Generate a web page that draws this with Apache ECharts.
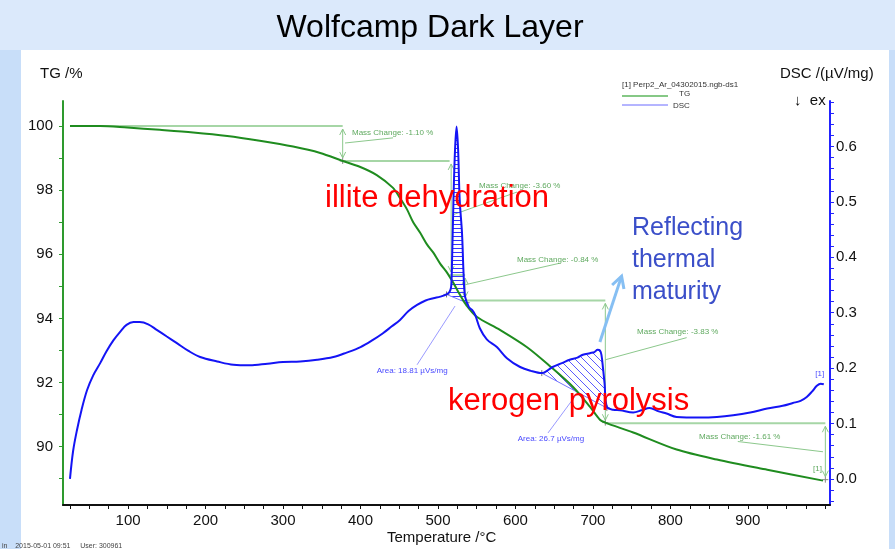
<!DOCTYPE html>
<html><head><meta charset="utf-8">
<script src="https://cdn.jsdelivr.net/npm/echarts@6/dist/echarts.min.js"></script>
<style>html,body{margin:0;padding:0;background:#dbe9fb}#c{width:895px;height:549px}</style>
</head><body><div id="c"></div>
<script>
const FONT = '"Liberation Sans", Arial, sans-serif';

// ---- TG curve (°C, %) ----
const tempTG = [25,64,99,141,184,228,270,313,348,377,399,421,442,451,460,468,477,486,494,503,511,520,528,537,550,580,615,645,674,696,709,716,752,808,860,925,997];
const tgValues = [100.0,100.0,99.95,99.88,99.8,99.69,99.54,99.36,99.16,98.91,98.73,98.47,98.07,97.75,97.4,97.0,96.67,96.3,96.05,95.7,95.45,95.1,94.75,94.4,94.05,93.64,93.1,92.5,91.87,91.25,90.84,90.75,90.44,89.91,89.6,89.28,88.94];

// ---- DSC curve (°C, µV/mg) ----
const tempDSC = [25,29,34,40,47,55,64,72,81,90,98,107,115,126,137,150,163,178,193,215,236,257,280,300,322,344,365,382,400,415,429,440,451,462,473,484,494,503,511,515,517,518,520,522,524,526,528,531,533,535,540,544,548,554,563,576,589,606,620,634,648,660,670,680,687,696,702,706,709,711,713,715,718,726,735,752,763,773,785,795,808,838,860,881,903,925,945,958,968,976,983,989,994,998];
const dscValues = [0.0,0.05,0.088,0.125,0.16,0.187,0.209,0.23,0.25,0.266,0.278,0.283,0.283,0.279,0.269,0.257,0.245,0.231,0.22,0.212,0.206,0.205,0.208,0.211,0.212,0.215,0.22,0.228,0.238,0.25,0.263,0.275,0.287,0.303,0.314,0.322,0.326,0.329,0.333,0.338,0.347,0.383,0.504,0.594,0.636,0.594,0.504,0.444,0.372,0.329,0.31,0.305,0.296,0.272,0.252,0.238,0.218,0.202,0.195,0.191,0.202,0.209,0.215,0.219,0.224,0.227,0.229,0.233,0.232,0.224,0.2,0.173,0.13,0.125,0.124,0.12,0.124,0.128,0.122,0.118,0.112,0.111,0.112,0.115,0.12,0.127,0.132,0.137,0.141,0.148,0.158,0.168,0.172,0.171];

// ---- axis labels ----
const xLabelValues = [100,200,300,400,500,600,700,800,900];
const tgLabelValues = [90,92,94,96,98,100];
const dscLabelValues = [0.0,0.1,0.2,0.3,0.4,0.5,0.6];

// ---- mass change annotations (TG axis units) ----
const massRefLines = [[25,377,100.0],[377,515,98.91],[515,535,95.35],[535,716,94.56],[716,1000,90.73]];
const massArrows = [[377,100.0,98.91],[517,98.91,95.35],[535,95.35,94.56],[716,94.56,90.73],[1000,90.73,88.97]];
const massLabels = ['Mass Change: -1.10 %','Mass Change: -3.60 %','Mass Change: -0.84 %','Mass Change: -3.83 %','Mass Change: -1.61 %'];
const massLabelPos = [[389,99.78],[553,98.13],[602,95.83],[757,93.58],[837,90.31]];
const massLeaders = [[380,99.47,442,99.63],[519,97.23,602,97.94],[535,95.05,657,95.72],[716,92.71,821,93.40],[997,89.84,887,90.16]];
const tgCrosses = [[377,98.91],[716,90.75],[1000,88.97]];

// ---- DSC peak areas (DSC axis units) ----
const areaRanges = [[511,537,0.333,0.318],[634,718,0.191,0.128]];
const areaLabels = ['Area: 18.81 \u00b5Vs/mg','Area: 26.7 \u00b5Vs/mg'];
const areaLabelPos = [[421,0.195],[603,0.072]];
const areaLeaders = [[522,0.312,473,0.206],[680,0.155,642,0.083]];
const dscCrosses = [[511,0.333],[537,0.318],[634,0.191],[718,0.128]];
const reflectArrow = [[709,0.247],[737,0.366]];

const xTicks = []; for (let t = 25; t <= 1000; t += 25) xTicks.push(t);
const tgTicks = []; for (let v = 89; v <= 100; v++) tgTicks.push(v);
const dscTicks = []; for (let i = -2; i <= 34; i++) dscTicks.push(+(i * 0.02).toFixed(2));

function makeHatch(kind) {
  const cv = document.createElement('canvas');
  const ctx = cv.getContext('2d');
  if (kind === 'h') {
    cv.width = 4; cv.height = 4;
    ctx.strokeStyle = '#3535ff'; ctx.lineWidth = 1;
    ctx.beginPath(); ctx.moveTo(0, 0.5); ctx.lineTo(4, 0.5); ctx.stroke();
  } else {
    cv.width = 8; cv.height = 8;
    ctx.strokeStyle = '#5a5aff'; ctx.lineWidth = 1;
    ctx.beginPath();
    for (const o of [-8, 0, 8]) { ctx.moveTo(o, 0); ctx.lineTo(o + 8, 8); }
    ctx.stroke();
  }
  return { image: cv, repeat: 'repeat' };
}
const hatchH = makeHatch('h');
const hatchD = makeHatch('d');

const tgData = tempTG.map((t, i) => [t, tgValues[i]]);
const dscData = tempDSC.map((t, i) => [t, dscValues[i]]);

const lineG = '#a6d6a6', textG = '#5fa95f';
function cross(p, col) {
  return [
    {type:'line', shape:{x1:p[0]-3,y1:p[1],x2:p[0]+3,y2:p[1]}, style:{stroke:col,lineWidth:1}},
    {type:'line', shape:{x1:p[0],y1:p[1]-3,x2:p[0],y2:p[1]+3}, style:{stroke:col,lineWidth:1}}
  ];
}
function smallText(p, txt, col) {
  return {type:'text', x:p[0], y:p[1], style:{text:txt, fill:col, font:'8px ' + FONT, align:'left', verticalAlign:'middle', textAlign:'left', textVerticalAlign:'middle'}};
}

function renderMass(params, api) {
  const c = (t, v) => api.coord([t, v]);
  const ch = [];
  massRefLines.forEach(r => {
    const a = c(r[0], r[2]), b = c(r[1], r[2]);
    ch.push({type:'line', shape:{x1:a[0],y1:a[1],x2:b[0],y2:b[1]}, style:{stroke:lineG,lineWidth:2}});
  });
  massArrows.forEach(r => {
    const a = c(r[0], r[1]), b = c(r[0], r[2]);
    const top = a[1] + 3, bot = b[1] - 3;
    ch.push({type:'line', shape:{x1:a[0],y1:top,x2:b[0],y2:bot}, style:{stroke:'#8cc88c',lineWidth:1}});
    ch.push({type:'polyline', shape:{points:[[a[0]-3,top+6],[a[0],top],[a[0]+3,top+6]]}, style:{stroke:'#8cc88c',lineWidth:1,fill:null}});
    ch.push({type:'polyline', shape:{points:[[b[0]-3,bot-6],[b[0],bot],[b[0]+3,bot-6]]}, style:{stroke:'#8cc88c',lineWidth:1,fill:null}});
  });
  massLeaders.forEach(r => {
    const a = c(r[0], r[1]), b = c(r[2], r[3]);
    ch.push({type:'line', shape:{x1:a[0],y1:a[1],x2:b[0],y2:b[1]}, style:{stroke:'#8cc88c',lineWidth:1}});
  });
  massLabels.forEach((s, i) => ch.push(smallText(c(massLabelPos[i][0], massLabelPos[i][1]), s, textG)));
  tgCrosses.forEach(p => ch.push(...cross(c(p[0], p[1]), '#888')));
  ch.push(smallText(c(984, 89.32), '[1]', textG));
  return {type:'group', children: ch};
}

function renderDscAnno(params, api) {
  const c = (t, v) => api.coord([t, v]);
  const ch = [];
  areaRanges.forEach((r, k) => {
    const pts = [];
    tempDSC.forEach((t, i) => { if (t >= r[0] && t <= r[1]) pts.push(c(t, dscValues[i])); });
    pts.push(c(r[1], r[3]));
    pts.push(c(r[0], r[2]));
    ch.push({type:'polygon', shape:{points:pts}, style:{fill: k === 0 ? hatchH : hatchD, stroke:null}});
    const b0 = c(r[0], r[2]), b1 = c(r[1], r[3]);
    ch.push({type:'line', shape:{x1:b0[0],y1:b0[1],x2:b1[0],y2:b1[1]}, style:{stroke:'#7777ff',lineWidth:1}});
  });
  areaLeaders.forEach(r => {
    const a = c(r[0], r[1]), b = c(r[2], r[3]);
    ch.push({type:'line', shape:{x1:a[0],y1:a[1],x2:b[0],y2:b[1]}, style:{stroke:'#9a9aff',lineWidth:1}});
  });
  areaLabels.forEach((s, i) => ch.push(smallText(c(areaLabelPos[i][0], areaLabelPos[i][1]), s, '#4a4aff')));
  dscCrosses.forEach(p => ch.push(...cross(c(p[0], p[1]), '#777')));
  ch.push(smallText(c(987, 0.19), '[1]', '#4a4aff'));
  // reflecting arrow
  const s = c(reflectArrow[0][0], reflectArrow[0][1]), e = c(reflectArrow[1][0], reflectArrow[1][1]);
  const dx = e[0]-s[0], dy = e[1]-s[1], L = Math.hypot(dx, dy), ux = dx/L, uy = dy/L;
  const head = (ang) => { const ca = Math.cos(ang), sa = Math.sin(ang); const bx = -ux, by = -uy; return [e[0] + 13*(bx*ca - by*sa), e[1] + 13*(bx*sa + by*ca)]; };
  ch.push({type:'line', shape:{x1:s[0],y1:s[1],x2:e[0],y2:e[1]}, style:{stroke:'#86bff3',lineWidth:3}});
  ch.push({type:'polyline', shape:{points:[head(0.5), e, head(-0.5)]}, style:{stroke:'#86bff3',lineWidth:3,fill:null}});
  return {type:'group', children: ch};
}

const chart = echarts.init(document.getElementById('c'), null, {renderer:'canvas'});
const txt = (x, y, s, size, col, align) => ({type:'text', x, y, z:100, style:{text:s, fill:col, font: size + 'px ' + FONT, align: align || 'left', verticalAlign:'middle', textAlign: align || 'left', textVerticalAlign:'middle'}});

chart.setOption({
  backgroundColor: '#dbe9fb',
  animation: false,
  grid: {left: 63, right: 65, top: 101, bottom: 44, outerBoundsMode: 'none'},
  xAxis: {
    type: 'value', min: 16, max: 1006,
    axisLine: {onZero: false, lineStyle: {color: '#111', width: 2}},
    axisTick: {customValues: xTicks, length: 4, lineStyle: {color: '#111'}},
    axisLabel: {customValues: xLabelValues, fontSize: 15, color: '#111', margin: 8, fontFamily: FONT},
    splitLine: {show: false}
  },
  yAxis: [{
    type: 'value', position: 'left', min: 88.18, max: 100.78,
    axisLine: {show: true, onZero: false, lineStyle: {color: '#2e9a2e', width: 2}},
    axisTick: {show: true, customValues: tgTicks, length: 4, lineStyle: {color: '#2e9a2e'}},
    axisLabel: {customValues: tgLabelValues, fontSize: 15, color: '#111', margin: 10, fontFamily: FONT},
    splitLine: {show: false}
  }, {
    type: 'value', position: 'right', min: -0.047, max: 0.682,
    axisLine: {show: true, onZero: false, lineStyle: {color: '#2222ff', width: 2}},
    axisTick: {show: true, customValues: dscTicks, length: 4, lineStyle: {color: '#2222ff'}},
    axisLabel: {customValues: dscLabelValues, fontSize: 15, color: '#111', margin: 6, fontFamily: FONT, formatter: v => v.toFixed(1)},
    splitLine: {show: false}
  }],
  graphic: [
    {type:'rect', shape:{x:0,y:50,width:21,height:499}, style:{fill:'#c8def9'}, z:-20},
    {type:'rect', shape:{x:889,y:50,width:6,height:499}, style:{fill:'#c8def9'}, z:-20},
    {type:'rect', shape:{x:21,y:50,width:868,height:499}, style:{fill:'#ffffff'}, z:-20},
    txt(430, 28, 'Wolfcamp Dark Layer', 32, '#000', 'center'),
    txt(40, 74, 'TG /%', 15, '#111'),
    txt(780, 74, 'DSC /(\u00b5V/mg)', 15, '#111'),
    txt(794, 101, '\u2193  ex', 15, '#111'),
    txt(387, 538, 'Temperature /\u00b0C', 15, '#111'),
    txt(622, 85, '[1] Perp2_Ar_04302015.ngb-ds1', 8, '#333'),
    {type:'line', shape:{x1:622,y1:96,x2:668,y2:96}, style:{stroke:'#86c886',lineWidth:2}, z:100},
    txt(679, 94, 'TG', 8, '#333'),
    {type:'line', shape:{x1:622,y1:105,x2:668,y2:105}, style:{stroke:'#6a6aff',lineWidth:1}, z:100},
    txt(673, 106, 'DSC', 8, '#333'),
    txt(2, 546, 'in    2015-05-01 09:51     User: 300961', 7, '#444'),
    txt(325, 198, 'illite dehydration', 31, '#ff0000'),
    txt(448, 401, 'kerogen pyrolysis', 31, '#ff0000'),
    txt(632, 228, 'Reflecting', 25, '#3b4fc9'),
    txt(632, 260, 'thermal', 25, '#3b4fc9'),
    txt(632, 292, 'maturity', 25, '#3b4fc9')
  ],
  series: [
    {type:'custom', name:'massAnno', xAxisIndex:0, yAxisIndex:0, data:[[500, 95]], renderItem: renderMass, z:1, silent:true},
    {type:'custom', name:'dscAnno', xAxisIndex:0, yAxisIndex:1, data:[[500, 0.3]], renderItem: renderDscAnno, z:1, silent:true},
    {type:'line', name:'TG', xAxisIndex:0, yAxisIndex:0, data: tgData, showSymbol:false, smooth:0.3, lineStyle:{color:'#1f8c1f', width:2}, z:3},
    {type:'line', name:'DSC', xAxisIndex:0, yAxisIndex:1, data: dscData, showSymbol:false, smooth:0.35, lineStyle:{color:'#1414f5', width:2}, z:4}
  ]
});
</script></body></html>
